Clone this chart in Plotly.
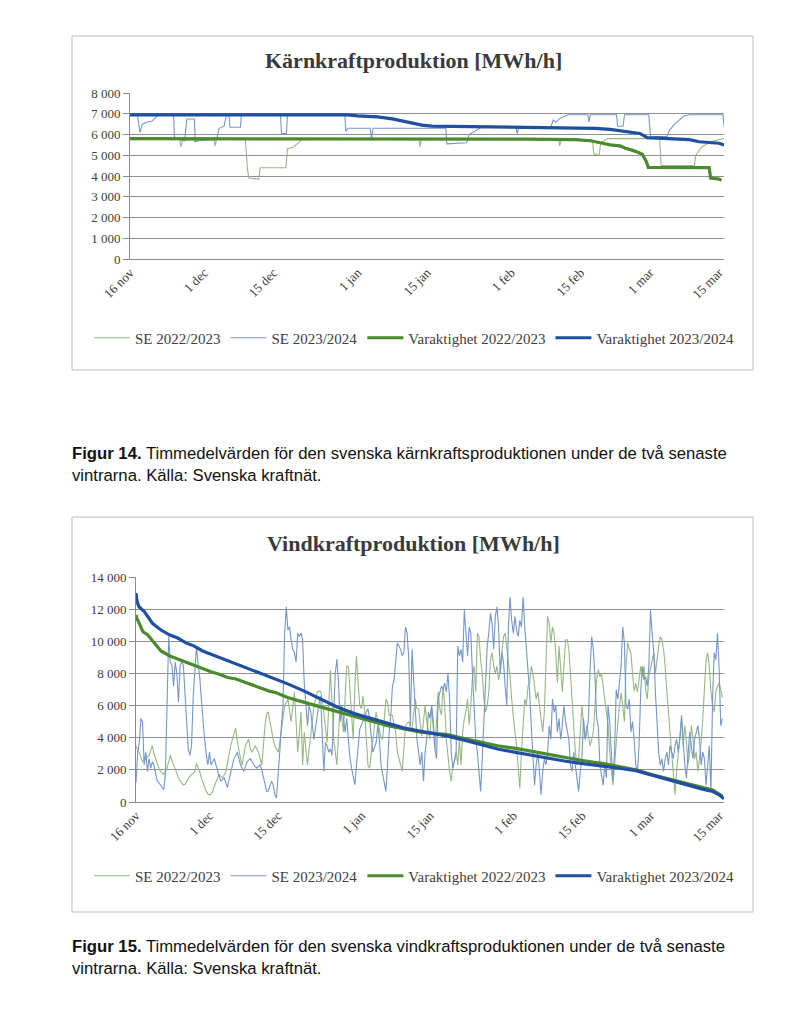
import numpy as np
import plotly.graph_objects as go

# ---------------- data ----------------
tick_days = [0, 15, 29, 46, 60, 77, 91, 105, 119]
tick_labels = ["16 nov", "1 dec", "15 dec", "1 jan", "15 jan", "1 feb", "15 feb", "1 mar", "15 mar"]

series_names = ["SE 2022/2023", "SE 2023/2024", "Varaktighet 2022/2023", "Varaktighet 2023/2024"]

# Nuclear (Kärnkraft) – hourly series given as breakpoints (day, MWh/h)
nuc_se2223_days = [0, 10, 10.3, 10.6, 12.9, 13, 14, 17, 17.2, 17.5, 23.3, 23.7, 24, 26, 26.3, 31.5, 31.8, 33, 34, 35,
                   58.4, 58.6, 58.9, 86.6, 86.8, 87.1, 93.4, 93.7, 94.8, 95.1, 96.5, 107, 107.3, 114, 114.3,
                   115.5, 117, 118, 119, 120]
nuc_se2223_vals = [5750, 5800, 5400, 5700, 5750, 5650, 5750, 5750, 5450, 5800, 5800, 4400, 3900, 3850, 4400, 4400,
                   5300, 5400, 5600, 5800, 5800, 5400, 5800, 5800, 5450, 5750, 5750, 5050, 5050, 5600, 5800,
                   5800, 4500, 4500, 5000, 5400, 5600, 5700, 5750, 5800]

nuc_se2324_days = [0, 1.5, 2, 2.5, 3.5, 4.5, 5.5, 8.8, 9, 10, 11, 11.5, 13, 13.2, 14, 17, 17.5, 18, 19, 19.5, 20,
                   20.2, 22.3, 22.5, 30.4, 30.6, 31.6, 31.8, 43.4, 43.6, 44, 48.5, 48.8, 49.1, 63.8, 64, 68,
                   68.5, 70, 71, 78, 78.2, 78.6, 85, 85.5, 86, 87, 88.5, 92.5, 92.7, 93, 98.3, 98.5, 99.6,
                   99.9, 104.8, 105.2, 106, 108.5, 109, 110, 111, 112, 113, 119.8, 120]
nuc_se2324_vals = [6900, 6950, 6100, 6500, 6600, 6650, 6900, 6950, 5800, 5750, 5700, 6750, 6750, 5650, 5700, 5750,
                   5750, 6300, 6400, 6950, 6950, 6350, 6350, 6950, 6950, 6050, 6050, 6950, 6950, 6150, 6300,
                   6300, 5800, 6300, 6300, 5550, 5600, 6000, 6200, 6350, 6350, 6050, 6350, 6350, 6700, 6600,
                   6800, 6950, 6950, 6600, 6950, 6950, 6400, 6400, 6950, 6950, 5800, 5900, 5900, 6200, 6500,
                   6700, 6900, 6950, 6950, 6400]

nuc_dur2223_days = [0, 70, 80, 90, 93, 95, 97, 99, 100, 102, 103.5, 104.3, 104.7, 117, 117.3, 119, 119.5]
nuc_dur2223_vals = [5800, 5800, 5780, 5750, 5700, 5600, 5500, 5450, 5350, 5200, 5050, 4700, 4420, 4400, 3900, 3850, 3800]

nuc_dur2324_days = [0, 44, 46, 50, 53, 56, 59, 61, 70, 80, 90, 94, 97, 100, 103, 104.5, 108, 110, 113, 115, 117, 119, 120]
nuc_dur2324_vals = [6950, 6950, 6900, 6850, 6750, 6600, 6450, 6400, 6380, 6350, 6330, 6300, 6250, 6150, 6050,
                    5850, 5820, 5780, 5750, 5650, 5600, 5580, 5500]

# Wind (Vindkraft) – values read every 8 hours from 16 nov 00:00
wind_step_days = 1.0 / 3.0
wind_se2223 = [
    3500, 3200, 3100, 2800, 2500, 2600, 2700, 2800, 2900, 3200,
    3500, 3000, 2700, 2300, 2100, 1900, 1800, 1700, 1900, 2100,
    2500, 2900, 2600, 2300, 2000, 1700, 1500, 1300, 1200, 1070,
    1100, 1300, 1500, 1600, 1700, 1800, 1900, 2400, 2200, 1900,
    1500, 1200, 900, 660, 500, 450, 500, 660, 1000, 1300,
    1500, 1700, 1600, 1500, 1700, 1900, 2400, 3100, 3500, 3900,
    4300, 4600, 3800, 3100, 2700, 2300, 2800, 3500, 3700, 3900,
    3300, 3100, 3300, 3500, 3300, 3100, 2700, 2300, 3500, 4800,
    5500, 5600, 5000,
    4350, 3900, 3500, 3300, 3100, 3700, 4350, 5200, 6000, 6200,
    6400, 5700, 5000, 5900, 6850, 5000, 3100, 4300, 5600, 2300,
    4350, 3300, 2300, 3300, 4350, 5200, 6000, 6400, 6850, 6900,
    6900, 6400, 5600, 4700, 3700, 6000, 8200, 6200, 3900, 3100,
    2300, 4300, 6000, 5200, 4350, 6400, 8450, 8450, 6850, 5400,
    3900, 7200, 9100, 7400, 6000, 5800, 6600, 5600, 3900, 2300,
    2100, 3000, 3900, 4700, 5600, 5000, 4350, 4000, 3900, 5200,
    6400, 6200, 5400, 5400, 5400, 4800, 4350, 3100, 2700, 2300,
    1900, 3300, 4750, 4900, 5000, 4600, 4550, 5500, 6400, 5800,
    5800, 4900, 4100, 5000, 6000, 5000, 4350, 3900,
    6000, 4800, 3300, 5000, 6850, 5800, 5400, 7200, 6000, 3900,
    2700, 1900, 1300, 2300, 2500, 3100, 2300, 3900, 2300, 4350,
    5200, 5600, 6400, 4800, 6000, 7800, 8450, 6850, 10500, 10300,
    8850, 8000, 6400, 5600, 6000, 6850, 8850, 9300, 8450, 8000,
    8450, 7600, 8200, 9300, 10300, 10500, 9700, 8850, 7800, 6400,
    5200, 4350, 3500, 2300, 850, 3100, 5200, 6400, 6000, 7200,
    7400, 8450, 8000, 7200, 6400, 6850, 6000, 5000, 4350, 5600,
    8850, 11550, 11100, 9900, 10900, 10500, 9300, 7400, 9700, 8450,
    6850, 8450, 10100, 10100, 9500, 8000, 6400, 4350, 3100, 2300,
    2700, 4350, 6000, 4800, 3900,
    4750, 4200, 3500, 3900, 4350, 6000, 7600, 8250, 7800, 8000,
    7200, 6400, 5800, 4800, 3100, 1900, 1050, 2300, 3900, 4950,
    6000, 6800, 6000, 5000, 8450, 9900, 9500, 9300, 8000, 6900,
    7400, 6850, 7600, 8450, 7800, 8450, 7000, 6400, 7800, 8250,
    8650, 9300, 8000, 9100, 9700, 10300, 10100, 9500, 8450, 6850,
    5600, 4350, 3100, 1500, 450, 1900, 3100, 4350, 5200, 3500,
    4750, 3700, 2300, 3100, 4750, 3900, 2700, 3100, 1900, 2700,
    3700, 5200, 6850, 8850, 9300, 8450, 6850, 6000, 5600, 6850,
    7200, 7400, 7000, 6500,
]
wind_se2324 = [
    1200, 3000, 3700, 5200, 5000, 2300, 3100, 1900, 2700, 2100,
    2500, 2300, 1800, 1300, 1200, 1070, 900, 760, 1700, 7000,
    10300, 8700, 8500, 7200, 8700, 8000, 6200, 8500, 8700, 8500,
    6500, 4500, 3300, 2900, 3500, 6500, 8500, 9700, 8600, 7800,
    6400, 5000, 3900, 3000, 2300, 3100, 2300, 2500, 2700, 2300,
    1900, 1600, 1300, 1400, 1500, 1200, 900, 1400, 1900, 2300,
    2700, 2900, 3100, 2700, 2300, 2100, 1900, 2200, 2500, 2600,
    2700, 2500, 2300, 2200, 2100, 2200, 2300, 2000, 1500, 1000,
    660, 700, 1000,
    1300, 1070, 450, 250, 1500, 3100, 4750, 6000, 10500, 12150,
    10700, 10900, 10100, 9500, 9300, 8700, 10500, 10300, 10500, 10100,
    7400, 5800, 4750, 6000, 5600, 4750, 3900, 4700, 5600, 6100,
    6600, 4300, 1900, 3700, 3500, 3100, 3300, 2900, 5600, 8000,
    8900, 7400, 5000, 6000, 5200, 4350, 5200, 4000, 2700, 2100,
    1500, 1070, 2300, 3500, 4550, 4800, 5000, 5300, 5600, 5800,
    5200, 3900, 3100, 3400, 3700, 4750, 3900, 2300, 1700, 1300,
    660, 2300, 4350, 5400, 7200, 7600, 8900, 9900, 9700, 9500,
    9100, 9300, 10900, 10500, 8900, 4750, 9500, 7400, 5200, 3900,
    3100, 2300, 3100, 1300, 3100, 3900, 5600, 5200,
    6000, 5000, 3300, 2700, 6400, 6850, 7200, 7000, 7400, 6850,
    8000, 6400, 3100, 2100, 2700, 3100, 9700, 9100, 9500, 8700,
    11950, 10500, 9100, 10900, 10500, 8000, 6000, 3900, 3100, 1900,
    660, 2700, 4750, 7600, 9700, 10500, 11750, 11100, 9500, 11550,
    12150, 10900, 8000, 9300, 8700, 7200, 6000, 10900, 12750, 11300,
    10500, 11550, 10700, 10300, 11300, 10900, 12750, 10900, 9500, 8450,
    6850, 4750, 2700, 1050, 2300, 3100, 1900, 450, 1900, 2700,
    2300, 3100, 4750, 3900, 6400, 5600, 6000, 4350, 5200, 3900,
    4750, 6000, 5000, 4350, 3900, 2300, 1900, 3100, 2300, 1500,
    660, 1900, 2700, 5200, 3900,
    4350, 5200, 8250, 10300, 9500, 7800, 5200, 4750, 2300, 1700,
    1050, 2300, 1500, 6000, 5000, 3100, 1300, 3100, 7000, 6400,
    7400, 8450, 10900, 9900, 6000, 5800, 6400, 4350, 5000, 3900,
    2300, 1900, 3500, 6850, 8450, 7600, 7800, 7200, 8450, 11950,
    10500, 9300, 6850, 5200, 3100, 2300, 2700, 1900, 2700, 3100,
    2300, 3500, 3100, 2700, 3500, 3900, 3100, 3900, 5400, 3900,
    2300, 1500, 3100, 4350, 3500, 2700, 3900, 4350, 4750, 3900,
    2300, 3100, 2700, 1050, 2300, 3500, 660, 6400, 9300, 8850,
    10500, 8450, 4750, 5200,
]

wind_dur2223_days = [0, 0.2, 0.7, 1.4, 2.4, 3.4, 5.1, 6.8, 8.5, 10.2, 11.9, 13.6, 15.3, 17.0, 18.7, 20.4, 22.1,
                     23.8, 25.5, 27.2, 28.6, 30.95, 34.35, 37.75, 41.15, 44.56, 47.96, 51.36, 54.76, 58.16,
                     61.2, 63.6, 67.0, 70.4, 73.8, 77.2, 80.6, 84.0, 87.4, 90.8, 93.9, 95.2, 98.6, 102.0,
                     105.4, 108.8, 112.2, 115.6, 117.7, 119.0, 119.7]
wind_dur2223_vals = [11650, 11400, 11100, 10600, 10400, 10000, 9400, 9100, 8900, 8650, 8450, 8250, 8100, 7950,
                     7750, 7650, 7450, 7250, 7100, 6900, 6800, 6500, 6200, 5900, 5600, 5300, 5000, 4750, 4550,
                     4350, 4250, 4200, 3950, 3700, 3500, 3350, 3150, 3000, 2800, 2600, 2450, 2400, 2200, 2000,
                     1700, 1450, 1200, 950, 750, 500, 350]

wind_dur2324_days = [0, 0.2, 0.6, 1.7, 3.4, 5.1, 6.8, 8.5, 10.2, 11.9, 13.6, 15.3, 17, 18.7, 20.4, 22.1, 23.8,
                     25.5, 27.2, 28.6, 30.95, 34.35, 37.75, 41.15, 44.56, 47.96, 51.36, 54.76, 58.16, 61.2,
                     63.6, 67.0, 70.4, 73.8, 77.2, 80.6, 84.0, 87.4, 90.8, 93.9, 95.2, 98.6, 102.0, 105.4,
                     108.8, 112.2, 115.6, 117.7, 119.0, 120]
wind_dur2324_vals = [13000, 12500, 12150, 11850, 11100, 10700, 10400, 10200, 9900, 9700, 9400, 9200, 9000,
                     8800, 8550, 8350, 8150, 7950, 7750, 7600, 7350, 6900, 6400, 5900, 5500, 5200, 4850,
                     4600, 4400, 4250, 4100, 3850, 3550, 3300, 3100, 2900, 2700, 2550, 2400, 2300, 2250,
                     2100, 1950, 1650, 1400, 1100, 800, 650, 450, 200]

# ---------------- style ----------------
C_G_THIN = "#97b886"
C_B_THIN = "#7498c8"
C_G_THICK = "#4c8a2e"
C_B_THICK = "#1f4fa0"
SERIF = "Liberation Serif"
TXT = "#404040"

W, H = 809, 1024
PAGE_OFF = 8  # default body margin of the html page


def px(x):
    return (x - PAGE_OFF) / W


def py(y):
    return 1 - (y - PAGE_OFF) / H


fig = go.Figure()

wind_x_2223 = np.arange(len(wind_se2223)) * wind_step_days
wind_x_2324 = np.arange(len(wind_se2324)) * wind_step_days

charts = [
    ("x", "y", "legend", [
        (nuc_se2223_days, nuc_se2223_vals, C_G_THIN, 1.1),
        (nuc_se2324_days, nuc_se2324_vals, C_B_THIN, 1.1),
        (nuc_dur2223_days, nuc_dur2223_vals, C_G_THICK, 3.2),
        (nuc_dur2324_days, nuc_dur2324_vals, C_B_THICK, 3.2),
    ]),
    ("x2", "y2", "legend2", [
        (wind_x_2223, wind_se2223, C_G_THIN, 1.1),
        (wind_x_2324, wind_se2324, C_B_THIN, 1.1),
        (wind_dur2223_days, wind_dur2223_vals, C_G_THICK, 3.2),
        (wind_dur2324_days, wind_dur2324_vals, C_B_THICK, 3.2),
    ]),
]

for xa, ya, leg, traces in charts:
    for name, (xs, ys, col, w) in zip(series_names, traces):
        fig.add_trace(go.Scatter(x=list(xs), y=list(ys), mode="lines", name=name,
                                 line=dict(color=col, width=w), xaxis=xa, yaxis=ya,
                                 legend=leg, hoverinfo="skip"))

xaxis_common = dict(range=[0, 120], tickmode="array", tickvals=tick_days, ticktext=tick_labels,
                    tickangle=-45, showgrid=False, zeroline=False, showline=True, automargin=False,
                    linecolor="#8c8c8c", linewidth=1, ticks="",
                    tickfont=dict(family=SERIF, size=13, color=TXT))
yaxis_common = dict(showgrid=True, gridcolor="#8f8f8f", gridwidth=1, zeroline=False, showline=True,
                    automargin=False,
                    linecolor="#8c8c8c", linewidth=1, ticks="outside", ticklen=6, tickcolor="#8c8c8c",
                    tickformat=",d", tickfont=dict(family=SERIF, size=13, color=TXT))

legend_common = dict(orientation="h", x=px(414), xanchor="center", yanchor="middle",
                     itemwidth=36, font=dict(family=SERIF, size=15, color=TXT),
                     bgcolor="rgba(0,0,0,0)")

fig.update_layout(
    template="none",
    width=W, height=H, margin=dict(l=0, r=0, t=0, b=0, pad=0, autoexpand=False),
    paper_bgcolor="white", plot_bgcolor="white", separators=", ",
    xaxis=dict(domain=[px(130), px(724)], anchor="y", **xaxis_common),
    yaxis=dict(domain=[py(259), py(93)], anchor="x", range=[0, 8000], dtick=1000, **yaxis_common),
    xaxis2=dict(domain=[px(136), px(724)], anchor="y2", **xaxis_common),
    yaxis2=dict(domain=[py(802), py(577)], anchor="x2", range=[0, 14000], dtick=2000, **yaxis_common),
    legend=dict(y=py(338), **legend_common),
    legend2=dict(y=py(876), **legend_common),
    showlegend=True,
)

# chart frames
for y0, y1 in [(36, 370), (517, 912)]:
    fig.add_shape(type="rect", xref="paper", yref="paper", x0=px(72), x1=px(753), y0=py(y1), y1=py(y0),
                  line=dict(color="#bdbdbd", width=1), fillcolor="rgba(0,0,0,0)", layer="below")

# titles
for txt, yy in [("Kärnkraftproduktion [MWh/h]", 60), ("Vindkraftproduktion [MWh/h]", 543)]:
    fig.add_annotation(text="<b>" + txt + "</b>", xref="paper", yref="paper", x=px(413), y=py(yy),
                       xanchor="center", yanchor="middle", showarrow=False,
                       font=dict(family=SERIF, size=22, color="#3a3a3a"))

# captions
captions = [
    ("<b>Figur 14.</b> Timmedelvärden för den svenska kärnkraftsproduktionen under de två senaste", 453),
    ("vintrarna. Källa: Svenska kraftnät.", 475),
    ("<b>Figur 15.</b> Timmedelvärden för den svenska vindkraftsproduktionen under de två senaste", 946),
    ("vintrarna. Källa: Svenska kraftnät.", 968),
]
for txt, yy in captions:
    fig.add_annotation(text=txt, xref="paper", yref="paper", x=px(70), y=py(yy),
                       xanchor="left", yanchor="middle", showarrow=False, align="left",
                       font=dict(family="Liberation Sans", size=16.7, color="#111111"))

fig.write_html("out.html")
